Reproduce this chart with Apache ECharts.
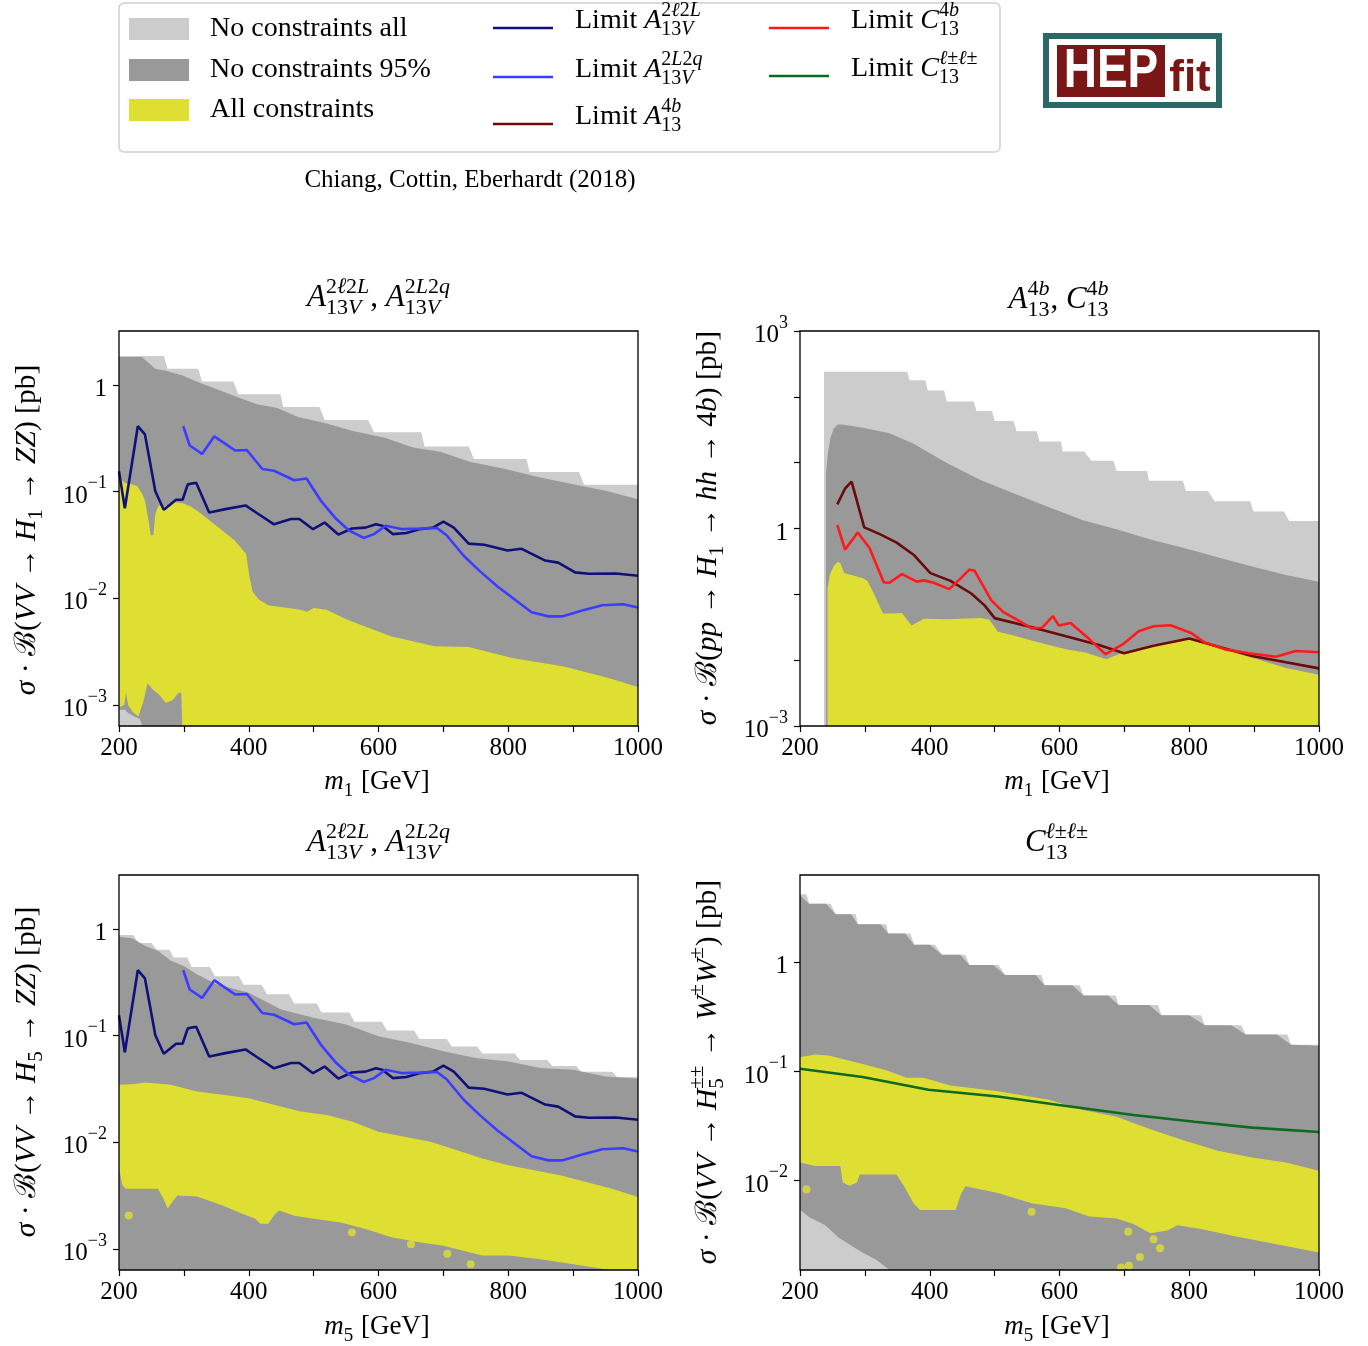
<!DOCTYPE html>
<html><head><meta charset="utf-8">
<script src="https://cdn.jsdelivr.net/npm/echarts@6/dist/echarts.min.js"></script>
<style>html,body{margin:0;padding:0;background:#fff}#c{width:1368px;height:1346px}</style>
</head><body><div id="c"></div>
<script>
// ---------------- DATA (m in GeV, sigma*BR in pb) ----------------
const xTicks = [200,300,400,500,600,700,800,900,1000];
const xLabels = [200,400,600,800,1000];
const yTicksZZ = [1e-3,1e-2,1e-1,1];
const yTicks4b = [1e-3,1e-2,1e-1,1,10,100,1000];
const yLabels4b = [1e-3,1,1000];
const yTicksWW = [1e-2,1e-1,1];

// top-left: H1 -> ZZ
const tlLightUp = [[200,1.87],[269,1.87],[275,1.42],[322,1.42],[328,1.08],[376,1.08],[384,0.82],[449,0.82],[453,0.622],[509,0.622],[517,0.471],[584,0.471],[593,0.36],[666,0.36],[671,0.265],[739,0.265],[747,0.202],[828,0.202],[833,0.153],[909,0.153],[917,0.116],[1000,0.116]];
const tlDarkUp = [[200,1.83],[235,1.83],[256,1.42],[272,1.36],[298,1.23],[329,1.02],[350,0.92],[382,0.77],[413,0.66],[444,0.61],[476,0.50],[517,0.44],[559,0.373],[611,0.318],[653,0.26],[695,0.237],[742,0.19],[794,0.164],[846,0.137],[898,0.118],[950,0.102],[1000,0.085]];
const tlYellowUp = [[200,0.14],[203,0.14],[208,0.121],[218,0.118],[228,0.113],[236,0.095],[240,0.082],[245,0.056],[249,0.039],[253,0.039],[256,0.062],[261,0.074],[270,0.0727],[285,0.08],[298,0.078],[312,0.072],[325,0.063],[352,0.047],[378,0.035],[396,0.026],[401,0.016],[406,0.0115],[415,0.0098],[430,0.0086],[480,0.0078],[490,0.0075],[500,0.0081],[520,0.0078],[552,0.0063],[619,0.0044],[686,0.00355],[739,0.0035],[806,0.00276],[886,0.0023],[953,0.0018],[1000,0.00147]];
const tlYellowLow = [[200,9.5e-4],[208,1.0e-3],[211,1.3e-3],[214,1.0e-3],[222,8.5e-4],[230,7.8e-4],[238,1.1e-3],[244,1.6e-3],[252,1.4e-3],[262,1.25e-3],[272,1.05e-3],[282,1.1e-3],[292,1.3e-3],[296,1.3e-3],[297.5,6.35e-4],[1000,6.35e-4]];
const tlDarkLow = [[200,9.0e-4],[209,9.0e-4],[215,8.3e-4],[225,7.7e-4],[232,7.4e-4],[236,6.35e-4],[1000,6.35e-4]];

const limA2l2L = [[200,0.155],[209,0.070],[229,0.411],[240,0.344],[256,0.101],[269,0.0676],[288,0.084],[298,0.084],[306,0.117],[319,0.121],[339,0.0637],[366,0.069],[395,0.0743],[413,0.0628],[439,0.0494],[465,0.0555],[478,0.0555],[499,0.0445],[517,0.0513],[538,0.0396],[559,0.0452],[580,0.046],[596,0.0494],[606,0.048],[622,0.040],[643,0.041],[663,0.0445],[684,0.046],[700,0.0524],[716,0.046],[739,0.0326],[763,0.0318],[799,0.0281],[820,0.0292],[857,0.0226],[877,0.0216],[903,0.0175],[924,0.0170],[966,0.0171],[1000,0.0163]];
const limA2L2q = [[299,0.411],[309,0.271],[328,0.226],[347,0.33],[360,0.291],[379,0.243],[397,0.246],[421,0.163],[439,0.157],[470,0.128],[489,0.133],[512,0.081],[533,0.057],[554,0.0435],[577,0.0368],[593,0.040],[611,0.0479],[637,0.0445],[663,0.045],[690,0.0457],[705,0.039],[731,0.0252],[757,0.0178],[783,0.0130],[810,0.00975],[836,0.0074],[862,0.00677],[883,0.00677],[914,0.0077],[945,0.0086],[977,0.0088],[1000,0.0082]];

// top-right: H1 -> hh -> 4b
const trLightUp = [[237,240],[365,240],[369,178],[393,178],[397,125],[422,125],[426,85],[468,85],[472,61],[496,61],[500,43],[529,43],[534,30],[565,30],[569,21],[602,21],[605,14.8],[638,14.8],[649,10.7],[683,10.7],[688,7.5],[735,7.5],[738,5.3],[790,5.3],[795,3.7],[829,3.7],[839,2.6],[894,2.6],[899,1.82],[946,1.82],[954,1.30],[1000,1.30]];
const trDarkUp = [[240,6.8],[243,14],[247,24],[252,33],[258,38],[265,38],[297,34],[338,28],[375,19.4],[427,9.8],[479,5.4],[531,3.37],[584,2.1],[636,1.34],[688,0.97],[740,0.68],[792,0.506],[845,0.364],[897,0.264],[949,0.196],[1000,0.155]];
const trYellowUp = [[242.5,0.12],[246,0.2],[252,0.27],[258,0.31],[262,0.30],[268,0.21],[297,0.176],[304,0.16],[315,0.097],[328,0.051],[344,0.051],[357,0.052],[372,0.0335],[391,0.0425],[427,0.042],[479,0.0436],[492,0.041],[505,0.027],[531,0.0235],[558,0.0197],[610,0.0146],[641,0.013],[672,0.0103],[693,0.0125],[740,0.0165],[797,0.0209],[845,0.0155],[897,0.0109],[949,0.0076],[1000,0.006]];
const limA4b = [[257.5,2.32],[269.5,4.05],[279.5,5.14],[299,1.04],[323,0.82],[349,0.61],[375,0.40],[401,0.21],[432,0.16],[464,0.103],[484.5,0.068],[500,0.0435],[557.5,0.0316],[610,0.023],[662,0.0169],[699.5,0.0127],[745,0.0165],[800,0.0214],[845,0.016],[897,0.0116],[949,0.0093],[1000,0.0075]];
const limC4b = [[257.5,1.13],[269.5,0.48],[289,0.87],[307,0.51],[329,0.153],[338,0.15],[357,0.203],[380,0.156],[391,0.163],[406,0.15],[430,0.12],[448,0.176],[461,0.237],[469,0.23],[495,0.081],[513,0.054],[537,0.040],[557.5,0.0305],[573,0.031],[590,0.0467],[599,0.0335],[617,0.0368],[646,0.0209],[671,0.0123],[698,0.0175],[722,0.0274],[745,0.0328],[771,0.034],[803,0.0259],[824,0.0185],[855,0.0146],[892,0.0127],[933.5,0.0113],[964,0.0138],[1000,0.0132]];

// bottom-left: H5 -> ZZ
const blLightUp = [[200,0.88],[222,0.88],[230,0.74],[250,0.74],[258,0.64],[278,0.64],[284,0.54],[305,0.54],[312,0.44],[340,0.44],[348,0.36],[385,0.36],[392,0.30],[420,0.30],[428,0.245],[462,0.245],[470,0.20],[505,0.20],[512,0.165],[555,0.165],[563,0.135],[605,0.135],[613,0.112],[655,0.112],[663,0.093],[705,0.093],[713,0.079],[752,0.079],[760,0.068],[810,0.068],[818,0.059],[860,0.059],[868,0.052],[905,0.052],[912,0.046],[960,0.046],[968,0.041],[1000,0.041]];
const blDarkUp = [[200,0.847],[220,0.82],[240,0.697],[260,0.625],[280,0.503],[300,0.451],[320,0.377],[350,0.303],[400,0.253],[450,0.176],[500,0.147],[550,0.127],[600,0.099],[650,0.0855],[700,0.0713],[750,0.0617],[800,0.0574],[850,0.0497],[900,0.0479],[950,0.0415],[1000,0.0394]];
const blYellowUp = [[200,0.0346],[220,0.035],[240,0.0364],[280,0.0346],[320,0.030],[360,0.0279],[400,0.0259],[440,0.0224],[480,0.0194],[520,0.018],[560,0.0156],[600,0.01257],[640,0.01127],[680,0.0101],[720,0.00845],[760,0.00705],[800,0.0061],[840,0.00547],[880,0.00491],[920,0.00425],[960,0.00367],[1000,0.00307]];
const blYellowLow = [[200,0.0057],[205,0.0040],[210,0.00367],[260,0.00367],[268,0.0030],[275,0.0024],[283,0.0028],[290,0.00318],[320,0.0031],[360,0.00256],[390,0.00214],[410,0.00192],[418,0.00172],[430,0.00172],[440,0.0021],[447,0.00229],[470,0.00205],[500,0.00192],[540,0.00178],[580,0.00154],[620,0.00129],[660,0.00116],[700,0.00107],[740,0.00093],[760,0.00087],[800,0.00087],[850,0.0008],[900,0.00072],[940,0.00066],[955,0.000635],[1000,0.000635]];
const blIslands = [[215,0.00206],[559,0.00143],[650,0.00111],[706,0.0009],[742,0.00072]];

// bottom-right: H5++ -> W+W+
const brLightUp = [[200,4.19],[210,4.19],[214,3.43],[247,3.43],[255,2.76],[286,2.76],[289,2.23],[333,2.23],[336,1.83],[370,1.83],[376,1.45],[408,1.45],[419,1.17],[455,1.17],[461,0.946],[506,0.946],[516,0.763],[572,0.763],[577,0.616],[631,0.616],[637,0.497],[687,0.497],[691,0.407],[752,0.407],[757,0.328],[818,0.328],[824,0.265],[880,0.265],[887,0.218],[951,0.218],[957,0.176],[1000,0.176]];
const brDarkUp = [[200,4.1],[204,3.9],[214,3.43],[240,3.43],[255,2.76],[279,2.76],[289,2.23],[324,2.23],[336,1.83],[362,1.83],[376,1.45],[400,1.45],[419,1.17],[447,1.17],[461,0.946],[498,0.946],[516,0.763],[563,0.763],[577,0.616],[620,0.616],[637,0.497],[675,0.497],[691,0.407],[738,0.407],[757,0.328],[800,0.328],[824,0.265],[865,0.265],[887,0.218],[935,0.218],[957,0.176],[1000,0.172]];
const brYellowUp = [[200,0.135],[223.5,0.143],[244,0.14],[296.5,0.117],[333,0.1026],[364,0.0877],[390,0.0877],[432,0.0744],[505,0.0658],[583.5,0.055],[636,0.0444],[688,0.0385],[740,0.0295],[792,0.0233],[844,0.0188],[897,0.0163],[949,0.0147],[1000,0.0123]];
const brYellowLow = [[200,0.0147],[223.5,0.0136],[262,0.0136],[266,0.0096],[276,0.0090],[288,0.0096],[292,0.0114],[348.7,0.0114],[360,0.0090],[375,0.0062],[385,0.0054],[440,0.0054],[448,0.0075],[455,0.0089],[505,0.0077],[557,0.0062],[609.6,0.0056],[646,0.0047],[688,0.0045],[714,0.0040],[740,0.0033],[766,0.0035],[782,0.0039],[818,0.0036],[870.5,0.0031],[922.7,0.0027],[1000,0.0022]];
const brDarkLow = [[200,0.0054],[215,0.0046],[239,0.0039],[260,0.0030],[296,0.0022],[317,0.0019],[338,0.00152],[1000,0.00152]];
const brIslands = [[210,0.0083],[557,0.0052],[706,0.0034],[724,0.0047],[745,0.0029],[755,0.0024],[724,0.0020],[707,0.00166],[695,0.0016]];
const limCll = [[200,0.106],[296.5,0.089],[398,0.068],[505,0.059],[599,0.0494],[714,0.0399],[808,0.0346],[897,0.0306],[1000,0.0279]];

// ---------------- STYLE ----------------
const C = {light:'#cccccc', dark:'#999999', yellow:'#dfdf33', navy:'#10107a', blue:'#3c3cff', brown:'#6a0a0a', red:'#ff1a1a', green:'#0e6b1e'};
const SERIF = '"Liberation Serif","DejaVu Serif",serif';
const grids = [
  {left:119, top:331, width:519, height:395, ymin:6.35e-4, ymax:3.21, ticks:yTicksZZ, labels:yTicksZZ},
  {left:800, top:331, width:519, height:395, ymin:1e-3, ymax:1e3, ticks:yTicks4b, labels:yLabels4b},
  {left:119, top:875, width:519, height:395, ymin:6.35e-4, ymax:3.21, ticks:yTicksZZ, labels:yTicksZZ},
  {left:800, top:875, width:519, height:395, ymin:1.52e-3, ymax:6.3, ticks:yTicksWW, labels:yTicksWW}
];

function powLabel(v) {
  const e = Math.round(Math.log10(v));
  if (e === 0) return '{b|1}';
  return '{b|10}{s|' + String(e).replace('-', '−') + '}';
}

// ---------------- math text helper (graphic) ----------------
const mctx = document.createElement('canvas').getContext('2d');
function fnt(size, it) { return (it ? 'italic ' : '') + size + 'px ' + SERIF; }
function tw(t, size, it) { mctx.font = fnt(size, it); return mctx.measureText(t).width; }
function txt(t, x, y, size, it) {
  return {type:'text', x, y, silent:true, z:100,
    style:{text:t, font:fnt(size, it), fill:'#000', textAlign:'left', textVerticalAlign:'middle', align:'left', verticalAlign:'middle'}};
}
function runs(list, x0, y, size, out) {
  let x = x0;
  list.forEach(([t, it]) => { out.push(txt(t, x, y, size, it)); x += tw(t, size, it); });
  return x - x0;
}
function math(segs, size, px, py, align, rot) {
  const kids = []; let x = 0; const s2 = Math.round(size * 0.7);
  segs.forEach(sg => {
    if (typeof sg === 'string') sg = [sg, 0];
    if (Array.isArray(sg)) { x += runs([sg], x, 0, size, kids); }
    else {
      let w1 = 0, w2 = 0;
      if (sg.sup) w1 = runs(sg.sup, x, -size * 0.36, s2, kids);
      if (sg.sub) w2 = runs(sg.sub, x, size * 0.32, s2, kids);
      x += Math.max(w1, w2) + 1;
    }
  });
  const off = align === 'left' ? 0 : -x / 2;
  kids.forEach(k => k.x += off);
  return {type:'group', x:px, y:py, rotation:rot || 0, children:kids, z:100};
}
const I = t => [t, 1], R = t => [t, 0];
const A2l2L = [I('A'), {sup:[R('2'),I('ℓ'),R('2'),I('L')], sub:[R('13'),I('V')]}];
const A2L2q = [I('A'), {sup:[R('2'),I('L'),R('2'),I('q')], sub:[R('13'),I('V')]}];
const A4b = [I('A'), {sup:[R('4'),I('b')], sub:[R('13')]}];
const C4b = [I('C'), {sup:[R('4'),I('b')], sub:[R('13')]}];
const Cll = [I('C'), {sup:[I('ℓ'),R('±'),I('ℓ'),R('±')], sub:[R('13')]}];

// ---------------- series ----------------
function area(data, color, gi) {
  return {type:'line', xAxisIndex:gi, yAxisIndex:gi, data, symbol:'none', silent:true,
    lineStyle:{width:0}, areaStyle:{color, opacity:1, origin:'start'}, z:2};
}
function line(data, color, gi) {
  return {type:'line', xAxisIndex:gi, yAxisIndex:gi, data, symbol:'none', silent:true,
    lineStyle:{color, width:2.6}, z:5};
}
function islands(data, gi) {
  return {type:'scatter', xAxisIndex:gi, yAxisIndex:gi, data, symbol:'circle', symbolSize:8, silent:true,
    itemStyle:{color:C.yellow}, z:3};
}
const series = [
  area(tlLightUp, C.light, 0), area(tlDarkUp, C.dark, 0), area(tlYellowUp, C.yellow, 0),
  area(tlYellowLow, C.dark, 0), area(tlDarkLow, C.light, 0),
  line(limA2l2L, C.navy, 0), line(limA2L2q, C.blue, 0),
  area(trLightUp, C.light, 1), area(trDarkUp, C.dark, 1), area(trYellowUp, C.yellow, 1),
  line(limA4b, C.brown, 1), line(limC4b, C.red, 1),
  area(blLightUp, C.light, 2), area(blDarkUp, C.dark, 2), area(blYellowUp, C.yellow, 2),
  area(blYellowLow, C.dark, 2), islands(blIslands, 2),
  line(limA2l2L, C.navy, 2), line(limA2L2q, C.blue, 2),
  area(brLightUp, C.light, 3), area(brDarkUp, C.dark, 3), area(brYellowUp, C.yellow, 3),
  area(brYellowLow, C.dark, 3), area(brDarkLow, C.light, 3), islands(brIslands, 3),
  line(limCll, C.green, 3)
];

// ---------------- graphic (frames, titles, axis names, legend, logo) ----------------
const graphic = [];
grids.forEach(g => graphic.push({type:'rect', z:100, silent:true,
  shape:{x:g.left, y:g.top, width:g.width, height:g.height},
  style:{fill:'rgba(0,0,0,0)', stroke:'#000', lineWidth:1.3}}));

const TS = 31;
graphic.push(math([...A2l2L, R(', '), ...A2L2q], TS, 379, 298));
graphic.push(math([...A4b, R(', '), ...C4b], TS, 1059, 300));
graphic.push(math([...A2l2L, R(', '), ...A2L2q], TS, 379, 843));
graphic.push(math([...Cll], TS, 1057, 843));

const AS = 27;
graphic.push(math([I('m'), {sub:[R('1')]}, R(' [GeV]')], AS, 377, 782));
graphic.push(math([I('m'), {sub:[R('1')]}, R(' [GeV]')], AS, 1057, 782));
graphic.push(math([I('m'), {sub:[R('5')]}, R(' [GeV]')], AS, 377, 1327));
graphic.push(math([I('m'), {sub:[R('5')]}, R(' [GeV]')], AS, 1057, 1327));

const YS = 29.5, ROT = Math.PI / 2;
graphic.push(math([I('σ'), R(' · ℬ('), I('VV'), R(' → '), I('H'), {sub:[R('1')]}, R(' → '), I('ZZ'), R(') [pb]')], YS, 27, 530, 'center', ROT));
graphic.push(math([I('σ'), R(' · ℬ('), I('pp'), R(' → '), I('H'), {sub:[R('1')]}, R(' → '), I('hh'), R(' → 4'), I('b'), R(') [pb]')], YS, 708, 528, 'center', ROT));
graphic.push(math([I('σ'), R(' · ℬ('), I('VV'), R(' → '), I('H'), {sub:[R('5')]}, R(' → '), I('ZZ'), R(') [pb]')], YS, 27, 1072, 'center', ROT));
graphic.push(math([I('σ'), R(' · ℬ('), I('VV'), R(' → '), I('H'), {sup:[R('±±')], sub:[R('5')]}, R(' → '), I('W'), {sup:[R('±')]}, I('W'), {sup:[R('±')]}, R(') [pb]')], YS, 708, 1072, 'center', ROT));

// legend
graphic.push({type:'rect', z:90, silent:true, shape:{x:119, y:3, width:881, height:149, r:5},
  style:{fill:'#fff', stroke:'#d0d0d0', lineWidth:1.5}});
const LS = 28;
[[C.light, 'No constraints all', 29], [C.dark, 'No constraints 95%', 70], [C.yellow, 'All constraints', 110]].forEach(([col, label, y]) => {
  graphic.push({type:'rect', z:100, silent:true, shape:{x:129, y:y - 11, width:60, height:22}, style:{fill:col}});
  graphic.push(math([R(label)], LS, 210, y, 'left'));
});
[[C.navy, A2l2L, 493, 28], [C.blue, A2L2q, 493, 77], [C.brown, A4b, 493, 124], [C.red, C4b, 769, 28], [C.green, Cll, 769, 76]].forEach(([col, lab, x, y]) => {
  graphic.push({type:'line', z:100, silent:true, shape:{x1:x, y1:y, x2:x + 60, y2:y}, style:{stroke:col, lineWidth:2.6}});
  graphic.push(math([R('Limit '), ...lab], LS, x + 82, y - 7, 'left'));
});
graphic.push(math([R('Chiang, Cottin, Eberhardt (2018)')], 25, 470, 180));

// HEPfit logo
graphic.push({type:'rect', z:100, silent:true, shape:{x:1046, y:36, width:173, height:69}, style:{fill:'#fff', stroke:'#2b6868', lineWidth:6}});
graphic.push({type:'rect', z:101, silent:true, shape:{x:1057, y:45, width:108, height:52}, style:{fill:'#7a1616'}});
graphic.push({type:'text', z:102, silent:true, x:1111, y:72, scaleX:0.82,
  style:{text:'HEP', font:'bold 56px "Liberation Sans", Arial, sans-serif', fill:'#fff', textAlign:'center', textVerticalAlign:'middle', align:'center', verticalAlign:'middle'}});
graphic.push({type:'text', z:102, silent:true, x:1190, y:79,
  style:{text:'fit', font:'bold 44px "Liberation Sans", Arial, sans-serif', fill:'#7a1616', textAlign:'center', textVerticalAlign:'middle', align:'center', verticalAlign:'middle'}});

// ---------------- axes ----------------
const xAxis = grids.map((g, i) => ({
  type:'value', gridIndex:i, min:200, max:1000, interval:100,
  axisLine:{show:false}, splitLine:{show:false},
  axisTick:{show:true, length:6, lineStyle:{color:'#000', width:1.2}, customValues:xTicks},
  axisLabel:{show:true, color:'#000', fontSize:25, fontFamily:SERIF, margin:10, customValues:xLabels,
    formatter:v => (v % 200 === 0 ? String(v) : '')}
}));
const yAxis = grids.map((g, i) => ({
  type:'log', logBase:10, gridIndex:i, min:g.ymin, max:g.ymax,
  axisLine:{show:false}, splitLine:{show:false}, minorTick:{show:false},
  axisTick:{show:true, length:6, lineStyle:{color:'#000', width:1.2}, customValues:g.ticks},
  axisLabel:{show:true, color:'#000', margin:12, customValues:g.labels,
    formatter:v => (g.labels.some(l => Math.abs(Math.log10(l) - Math.log10(v)) < 1e-6) ? powLabel(v) : ''),
    rich:{
      b:{fontSize:25, fontFamily:SERIF, color:'#000', lineHeight:34, verticalAlign:'bottom'},
      s:{fontSize:18, fontFamily:SERIF, color:'#000', verticalAlign:'top'}
    }}
}));

const chart = echarts.init(document.getElementById('c'), null, {renderer:'canvas', width:1368, height:1346});
chart.setOption({
  backgroundColor:'#fff', animation:false,
  textStyle:{fontFamily:SERIF},
  grid:grids.map(g => ({left:g.left, top:g.top, width:g.width, height:g.height, containLabel:false, outerBoundsMode:'none', show:false})),
  xAxis, yAxis, series, graphic
});
</script></body></html>
